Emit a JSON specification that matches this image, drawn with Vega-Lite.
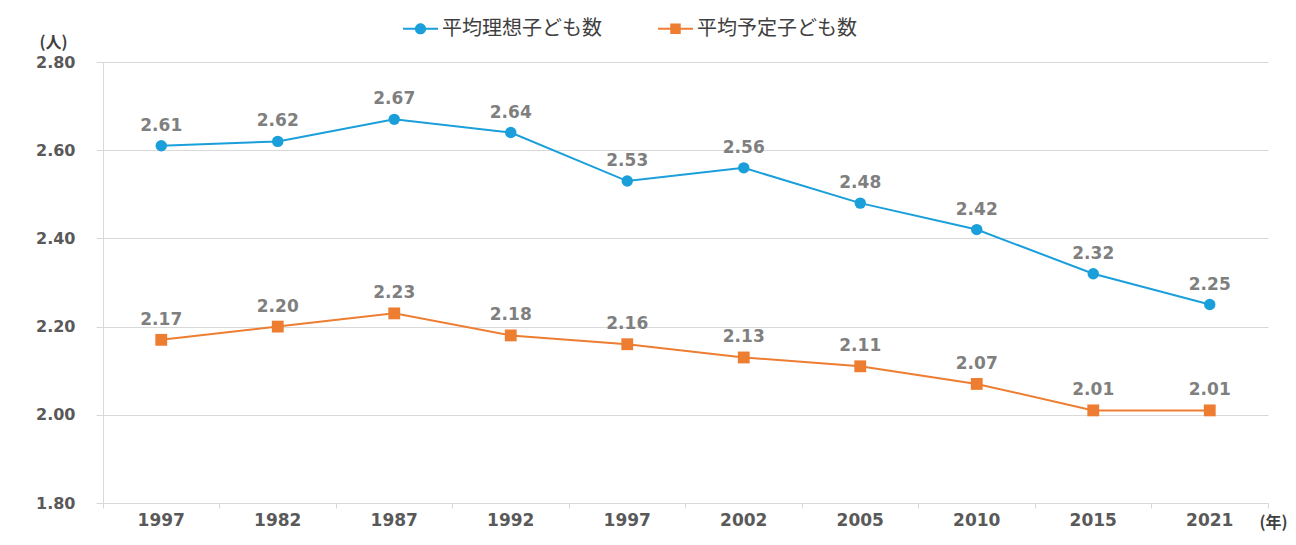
{
  "$schema": "https://vega.github.io/schema/vega-lite/v6.json",
  "width": 1165,
  "height": 441,
  "autosize": {"type": "none"},
  "padding": {"left": 103, "top": 62, "right": 28, "bottom": 42},
  "background": "white",
  "config": {
    "view": {"stroke": null},
    "font": "DejaVu Sans",
    "axis": {"labelFont": "DejaVu Sans", "labelFontWeight": "bold", "labelFontSize": 16, "labelColor": "#595959", "domainColor": "#d9d9d9", "tickColor": "#d9d9d9", "gridColor": "#d9d9d9"}
  },
  "data": {
    "values": [
      {"idx": 0, "series": "平均理想子ども数", "value": 2.61},
      {"idx": 1, "series": "平均理想子ども数", "value": 2.62},
      {"idx": 2, "series": "平均理想子ども数", "value": 2.67},
      {"idx": 3, "series": "平均理想子ども数", "value": 2.64},
      {"idx": 4, "series": "平均理想子ども数", "value": 2.53},
      {"idx": 5, "series": "平均理想子ども数", "value": 2.56},
      {"idx": 6, "series": "平均理想子ども数", "value": 2.48},
      {"idx": 7, "series": "平均理想子ども数", "value": 2.42},
      {"idx": 8, "series": "平均理想子ども数", "value": 2.32},
      {"idx": 9, "series": "平均理想子ども数", "value": 2.25},
      {"idx": 0, "series": "平均予定子ども数", "value": 2.17},
      {"idx": 1, "series": "平均予定子ども数", "value": 2.20},
      {"idx": 2, "series": "平均予定子ども数", "value": 2.23},
      {"idx": 3, "series": "平均予定子ども数", "value": 2.18},
      {"idx": 4, "series": "平均予定子ども数", "value": 2.16},
      {"idx": 5, "series": "平均予定子ども数", "value": 2.13},
      {"idx": 6, "series": "平均予定子ども数", "value": 2.11},
      {"idx": 7, "series": "平均予定子ども数", "value": 2.07},
      {"idx": 8, "series": "平均予定子ども数", "value": 2.01},
      {"idx": 9, "series": "平均予定子ども数", "value": 2.01}
    ]
  },
  "encoding": {
    "x": {
      "field": "idx", "type": "ordinal", "bandPosition": 0.5,
      "scale": {"type": "band", "paddingInner": 0, "paddingOuter": 0},
      "axis": {
        "labelExpr": "['1997','1982','1987','1992','1997','2002','2005','2010','2015','2021'][datum.value]",
        "labelAngle": 0, "bandPosition": 1, "tickExtra": true, "tickSize": 5, "labelPadding": 4, "labelFontSize": 17,
        "title": "(年)", "titleAngle": 0, "titleX": 1170, "titleY": 19, "titleAlign": "center", "titleBaseline": "middle",
        "titleFontSize": 16, "titleFontWeight": "bold", "titleColor": "#404040", "titleFont": "Noto Sans CJK JP"
      }
    },
    "y": {
      "field": "value", "type": "quantitative",
      "scale": {"domain": [1.8, 2.8], "nice": false, "zero": false},
      "axis": {
        "values": [1.8, 2.0, 2.2, 2.4, 2.6, 2.8], "format": ".2f", "tickSize": 7, "labelPadding": 21, "grid": true,
        "title": "(人)", "titleAngle": 0, "titleX": -50, "titleY": -20, "titleAlign": "center", "titleBaseline": "middle",
        "titleFontSize": 16, "titleFontWeight": "bold", "titleColor": "#404040", "titleFont": "Noto Sans CJK JP"
      }
    },
    "color": {
      "field": "series", "type": "nominal",
      "scale": {"domain": ["平均理想子ども数", "平均予定子ども数"], "range": ["#1A9FDB", "#ED7D31"]},
      "legend": {
        "title": null, "orient": "none", "direction": "horizontal", "legendX": 300, "legendY": -51,
        "padding": 0, "labelFont": "Noto Sans CJK JP", "labelFontSize": 20, "labelColor": "#404040",
        "labelOffset": 4, "columnPadding": 56, "symbolSize": 1225, "symbolStrokeWidth": 0, "symbolOpacity": 1
      }
    }
  },
  "layer": [
    {
      "mark": {"type": "point", "filled": true, "opacity": 0, "size": 1225},
      "encoding": {
        "shape": {
          "field": "series", "type": "nominal",
          "scale": {"domain": ["平均理想子ども数", "平均予定子ども数"], "range": ["M-1,-0.06H-0.3V0.06H-1Z M0.3,-0.06H1V0.06H0.3Z M0.32,0A0.32,0.32 0 1,1 -0.32,0A0.32,0.32 0 1,1 0.32,0Z", "M-1,-0.06H-0.3V0.06H-1Z M0.3,-0.06H1V0.06H0.3Z M-0.3,-0.3H0.3V0.3H-0.3Z"]},
          "legend": null
        }
      }
    },
    {
      "mark": {"type": "line", "strokeWidth": 2}
    },
    {
      "transform": [{"filter": "datum.series == '平均理想子ども数'"}],
      "mark": {"type": "point", "filled": true, "opacity": 1, "shape": "circle", "size": 130, "color": "#1A9FDB"},
      "encoding": {"color": {"value": "#1A9FDB"}}
    },
    {
      "transform": [{"filter": "datum.series == '平均予定子ども数'"}],
      "mark": {"type": "point", "filled": true, "opacity": 1, "shape": "square", "size": 140, "color": "#ED7D31"},
      "encoding": {"color": {"value": "#ED7D31"}}
    },
    {
      "mark": {"type": "text", "dy": -20, "fontSize": 17, "fontWeight": "bold", "font": "DejaVu Sans", "color": "#7F7F7F"},
      "encoding": {"text": {"field": "value", "type": "quantitative", "format": ".2f"}, "color": {"value": "#7F7F7F"}}
    }
  ]
}
